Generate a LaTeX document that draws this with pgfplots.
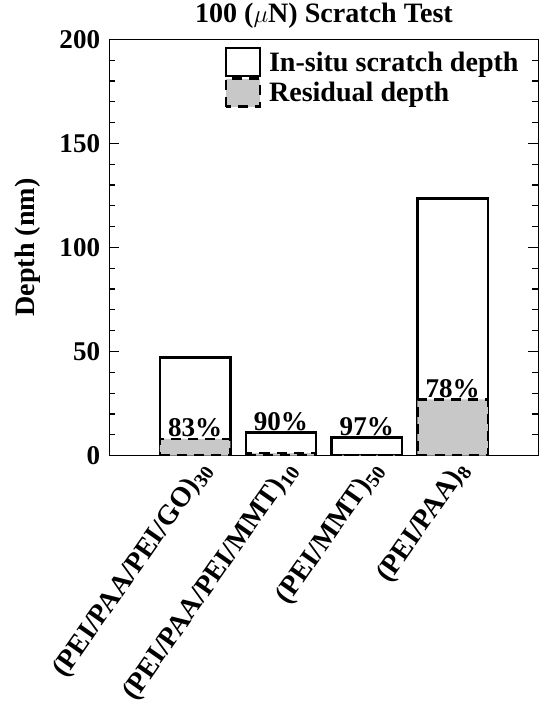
\documentclass[border=0pt]{standalone}
\usepackage{fontspec}
\setmainfont{Liberation Serif}
\usepackage{pgfplots}
\pgfplotsset{compat=1.18}
\definecolor{resgray}{RGB}{200,200,200}
\begin{document}
\begin{tikzpicture}
\begin{axis}[
  name=ax,
  scale only axis, width=428pt, height=415pt,
  xmin=0, xmax=5, ymin=0, ymax=200,
  ybar, bar width=0.82, bar shift=0pt,
  xtick={1,2,3,4},
  xticklabels={(PEI/PAA/PEI/GO)\textsubscript{30},(PEI/PAA/PEI/MMT)\textsubscript{10},(PEI/MMT)\textsubscript{50},(PEI/PAA)\textsubscript{8}},
  x tick style={draw=none},
  xticklabel style={rotate=55, anchor=north east, font=\fontsize{28}{30}\selectfont\bfseries, inner sep=2pt},
  ytick={0,50,100,150,200}, minor y tick num=4,
  tick align=inside,
  yticklabel style={font=\fontsize{27}{30}\selectfont\bfseries, inner sep=9pt},
  /pgf/number format/assume math mode=true,
  ylabel={Depth (nm)},
  ylabel style={font=\fontsize{28}{30}\selectfont\bfseries, at={(axis description cs:-0.19,0.5)}, anchor=center},
  title={100 ($\mu$N) Scratch Test},
  title style={font=\fontsize{28}{30}\selectfont\bfseries, yshift=1pt},
  axis line style={line width=1.6pt},
  major tick length=10pt, minor tick length=6pt,
  every tick/.style={black, line width=1.2pt},
  legend style={at={(0.96,0.985)}, anchor=north east, draw=none, fill=none,
    font=\fontsize{28}{30}\selectfont\bfseries, row sep=0pt, inner sep=1pt,
    nodes={inner sep=1.5pt}},
  legend cell align=left,
  legend image code/.code={\draw[#1] (0pt,-14pt) rectangle (34pt,14pt); \path (40pt,0pt);},
]
\addplot[draw=black, fill=white, line width=2.5pt] coordinates {(1,47) (2,11) (3,8.7) (4,123.5)};
\addlegendentry{In-situ scratch depth}
\addplot[draw=black, fill=resgray, line width=2.5pt, dash pattern=on 10pt off 7pt] coordinates {(1,8) (2,1.1) (3,0.26) (4,27)};
\addlegendentry{Residual depth}
\node[anchor=south, font=\fontsize{27}{30}\selectfont\bfseries, inner sep=1.5pt] at (axis cs:1,8) {83\%};
\node[anchor=south, font=\fontsize{27}{30}\selectfont\bfseries, inner sep=1.5pt] at (axis cs:2,11) {90\%};
\node[anchor=south, font=\fontsize{27}{30}\selectfont\bfseries, inner sep=1.5pt] at (axis cs:3,8.7) {97\%};
\node[anchor=south, font=\fontsize{27}{30}\selectfont\bfseries, inner sep=1.5pt] at (axis cs:4,27) {78\%};
\end{axis}
\path (ax.south west) ++(-109pt,0pt) rectangle ++(0.1pt,0.1pt);
\path (ax.south east) ++(2pt,0pt) rectangle ++(-0.1pt,0.1pt);
\end{tikzpicture}
\end{document}
